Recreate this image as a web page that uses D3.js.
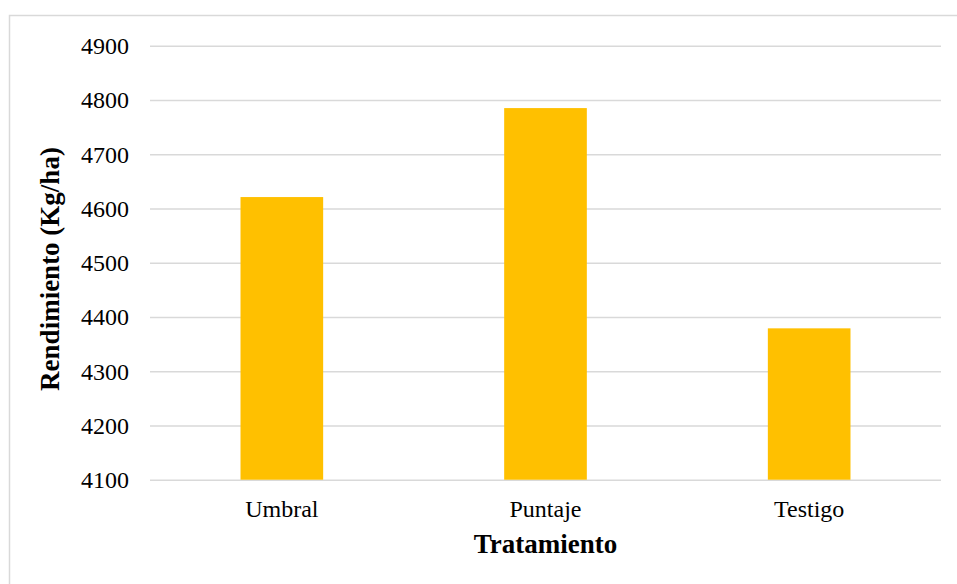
<!DOCTYPE html>
<html>
<head>
<meta charset="utf-8">
<script src="https://cdn.jsdelivr.net/npm/d3@7"></script>
<style>
  html, body { margin: 0; padding: 0; background: #fff; }
  svg { display: block; }
  text { font-family: 'Liberation Serif', 'Times New Roman', serif; }
</style>
</head>
<body>
<svg id="chart" width="957" height="584"></svg>
<script>
const categories = ["Umbral", "Puntaje", "Testigo"];
const values = [4621, 4785, 4379];
const yTicks = [4100, 4200, 4300, 4400, 4500, 4600, 4700, 4800, 4900];
const xTitle = "Tratamiento";
const yTitle = "Rendimiento (Kg/ha)";

const FONT = "'Liberation Serif', 'Times New Roman', serif";
const W = 957, H = 584;
const margin = { left: 150, right: 16, top: 45.7, bottom: 104.3 };
const svg = d3.select("#chart");

// outer chart border (right/bottom edges fall outside the picture)
svg.append("rect")
  .attr("x", 9.5).attr("y", 15.5)
  .attr("width", 1000).attr("height", 1000)
  .attr("fill", "#fff").attr("stroke", "#d9d9d9").attr("stroke-width", 1.5);

const x = d3.scaleBand().domain(categories)
  .range([margin.left, W - margin.right]).padding(0);
const y = d3.scaleLinear().domain([4100, 4900])
  .range([H - margin.bottom, margin.top]);

// gridlines + y tick labels
const yAxis = d3.axisLeft(y).tickValues(yTicks).tickFormat(d3.format("d"))
  .tickSize(-(W - margin.right - margin.left)).tickSizeOuter(0).tickPadding(21);
const gy = svg.append("g").attr("transform", `translate(${margin.left},0)`).call(yAxis)
  .attr("font-family", FONT).attr("font-size", 24);
gy.select(".domain").remove();
gy.selectAll(".tick line").attr("stroke", "#d9d9d9").attr("stroke-width", 1.5);
gy.selectAll(".tick text")
  .attr("font-family", FONT)
  .attr("font-size", "24px").attr("fill", "#000")
  .attr("dy", "0.33em");

// bars
const barW = x.bandwidth() / 3.19;
svg.append("g").selectAll("rect").data(categories).join("rect")
  .attr("x", (d) => x(d) + (x.bandwidth() - barW) / 2)
  .attr("width", barW)
  .attr("y", (d, i) => y(values[i]))
  .attr("height", (d, i) => y(4100) - y(values[i]))
  .attr("fill", "#ffc000");

// x axis labels
const xAxis = d3.axisBottom(x).tickSize(0).tickPadding(0);
const gx = svg.append("g").attr("transform", `translate(0,${y(4100)})`).call(xAxis)
  .attr("font-family", FONT).attr("font-size", 24);
gx.select(".domain").remove();
gx.selectAll(".tick text")
  .attr("font-family", FONT)
  .attr("font-size", "24px").attr("fill", "#000")
  .attr("dy", null).attr("y", 37);

// axis titles
svg.append("text")
  .attr("x", (margin.left + W - margin.right) / 2).attr("y", 553)
  .attr("text-anchor", "middle")
  .attr("font-family", FONT)
  .attr("font-weight", "bold").attr("font-size", "27px").attr("fill", "#000")
  .text(xTitle);

svg.append("text")
  .attr("transform", `translate(59,${269}) rotate(-90)`)
  .attr("text-anchor", "middle")
  .attr("font-family", FONT)
  .attr("font-weight", "bold").attr("font-size", "27px").attr("fill", "#000")
  .text(yTitle);
</script>
</body>
</html>
